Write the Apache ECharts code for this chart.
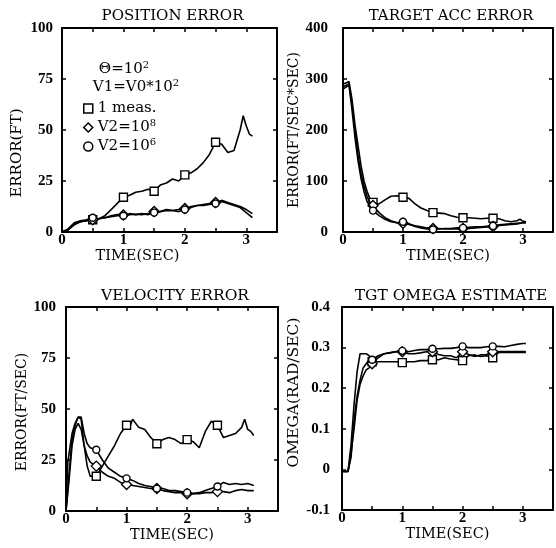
<!DOCTYPE html>
<html>
<head>
<meta charset="utf-8">
<script src="https://cdn.jsdelivr.net/npm/echarts@6/dist/echarts.min.js"></script>
<style>
html,body{margin:0;padding:0;background:#fff;}
#chart{width:556px;height:548px;}
</style>
</head>
<body>
<div id="chart"></div>
<script>
// ---------- DATA (time in sec, value) ----------
const seriesNames = ['1 meas.', 'V2=10^8', 'V2=10^6'];
const panelTitles = ['POSITION ERROR', 'TARGET ACC ERROR', 'VELOCITY ERROR', 'TGT OMEGA ESTIMATE'];
const yNames = ['ERROR(FT)', 'ERROR(FT/SEC*SEC)', 'ERROR(FT/SEC)', 'OMEGA(RAD/SEC)'];
const xName = 'TIME(SEC)';
const xTicks = [0, 1, 2, 3];
const markerTimes = [0.5, 1, 1.5, 2, 2.5];

// Position error (FT)
const posMeas = [[0,0],[0.1,1],[0.2,4],[0.3,5],[0.4,5.5],[0.5,6],[0.6,6.5],[0.7,8],[0.8,11],[0.9,14],[1,17],[1.1,18],[1.2,19.5],[1.3,20],[1.4,21],[1.5,20],[1.6,23],[1.7,24],[1.8,26],[1.9,25],[2,28],[2.1,29],[2.2,31],[2.3,34],[2.4,38],[2.5,44],[2.6,43],[2.7,39],[2.8,40],[2.9,50],[2.95,57],[3,52],[3.05,48],[3.1,47]];
const posV8 = [[0,0],[0.1,1],[0.2,3.5],[0.3,5],[0.4,5.5],[0.5,6],[0.6,6.5],[0.7,7],[0.8,7.5],[0.9,8],[1,8.3],[1.1,8.5],[1.2,8.7],[1.3,8.5],[1.4,9],[1.5,10],[1.6,10],[1.7,10.5],[1.8,10.5],[1.9,11],[2,11.5],[2.1,12],[2.2,13],[2.3,13.5],[2.4,14],[2.5,14.5],[2.6,15],[2.7,14],[2.8,13],[2.9,12],[3,9.5],[3.1,7]];
const posV6 = [[0,0],[0.1,1.5],[0.2,4.5],[0.3,5.5],[0.4,6],[0.5,7],[0.6,6.5],[0.7,7],[0.8,8],[0.9,8.5],[1,8],[1.1,9],[1.2,8.5],[1.3,9],[1.4,8.5],[1.5,9.5],[1.6,10],[1.7,11],[1.8,10.5],[1.9,10],[2,11],[2.1,12.5],[2.2,13],[2.3,13],[2.4,13.5],[2.5,14],[2.6,15.5],[2.7,14.5],[2.8,13.5],[2.9,12.5],[3,11],[3.1,9]];

// Target acceleration error (FT/SEC*SEC)
const accMeas = [[0,290],[0.05,292],[0.1,295],[0.15,260],[0.2,210],[0.25,170],[0.3,130],[0.35,100],[0.4,80],[0.45,65],[0.5,58],[0.6,55],[0.7,63],[0.8,70],[0.9,71],[1,68],[1.1,66],[1.2,55],[1.3,47],[1.4,42],[1.5,38],[1.6,37],[1.7,36],[1.8,32],[1.9,29],[2,28],[2.1,28],[2.2,27],[2.3,26],[2.4,27],[2.5,27],[2.6,26],[2.7,22],[2.8,20],[2.9,22],[2.95,25],[3,21],[3.05,20]];
const accV8 = [[0,285],[0.1,290],[0.15,250],[0.2,200],[0.25,150],[0.3,115],[0.35,90],[0.4,70],[0.45,58],[0.5,52],[0.6,38],[0.7,28],[0.8,22],[0.9,18],[1,17],[1.1,15],[1.2,12],[1.3,10],[1.4,8],[1.5,7],[1.6,7],[1.7,6],[1.8,6],[1.9,6],[2,7],[2.1,7],[2.2,8],[2.3,9],[2.4,10],[2.5,11],[2.6,13],[2.7,14],[2.8,15],[2.9,16],[3,18],[3.05,18]];
const accV6 = [[0,280],[0.1,288],[0.15,240],[0.2,185],[0.25,140],[0.3,105],[0.35,80],[0.4,60],[0.45,50],[0.5,42],[0.6,32],[0.7,25],[0.8,20],[0.9,18],[1,20],[1.1,16],[1.2,11],[1.3,8],[1.4,6],[1.5,5],[1.6,6],[1.7,7],[1.8,7],[1.9,8],[2,8],[2.1,9],[2.2,10],[2.3,10],[2.4,11],[2.5,12],[2.6,14],[2.7,15],[2.8,16],[2.9,17],[3,18],[3.05,18]];

// Velocity error (FT/SEC)
const velMeas = [[0,0],[0.03,24],[0.1,38],[0.15,43],[0.2,46],[0.25,45],[0.3,32],[0.35,22],[0.4,17],[0.5,17],[0.6,22],[0.7,27],[0.8,32],[0.9,38],[1,42],[1.05,41],[1.1,45],[1.2,41],[1.3,40],[1.4,36],[1.5,33],[1.6,35],[1.7,36],[1.8,35],[1.9,33],[2,35],[2.1,34],[2.2,31],[2.3,39],[2.4,44],[2.5,42],[2.6,36],[2.7,37],[2.8,38],[2.9,41],[2.95,45],[3,40],[3.05,39],[3.1,37]];
const velV8 = [[0,0],[0.05,15],[0.1,32],[0.15,40],[0.2,43],[0.25,40],[0.3,32],[0.35,27],[0.4,24],[0.5,22],[0.6,19],[0.7,17],[0.8,16],[0.9,14],[1,13],[1.1,12.5],[1.2,12],[1.3,11.5],[1.4,11],[1.5,11],[1.6,10],[1.7,9.5],[1.8,9],[1.9,9],[2,8.5],[2.1,8.5],[2.2,8.5],[2.3,9],[2.4,9],[2.5,9.5],[2.6,9.5],[2.7,9],[2.8,10],[2.9,10.5],[3,10],[3.1,10]];
const velV6 = [[0,0],[0.05,18],[0.1,35],[0.15,42],[0.2,46],[0.25,46],[0.3,38],[0.35,33],[0.4,31],[0.5,30],[0.6,25],[0.7,21],[0.8,19],[0.9,17],[1,16],[1.1,15],[1.2,13.5],[1.3,12.5],[1.4,12],[1.5,11],[1.6,11],[1.7,10],[1.8,10],[1.9,9.5],[2,9],[2.1,8.5],[2.2,9],[2.3,10],[2.4,11],[2.5,12],[2.6,14],[2.7,13],[2.8,13.5],[2.9,13],[3,13.5],[3.1,12.5]];

// Target omega estimate (RAD/SEC)
const omgMeas = [[0,-0.005],[0.1,-0.005],[0.15,0.06],[0.2,0.16],[0.25,0.24],[0.3,0.285],[0.35,0.285],[0.4,0.285],[0.45,0.28],[0.5,0.265],[0.6,0.265],[0.7,0.265],[0.8,0.265],[0.9,0.265],[1,0.263],[1.1,0.265],[1.2,0.265],[1.3,0.268],[1.4,0.268],[1.5,0.27],[1.6,0.27],[1.7,0.275],[1.8,0.272],[1.9,0.27],[2,0.268],[2.1,0.28],[2.2,0.282],[2.3,0.278],[2.4,0.28],[2.5,0.275],[2.6,0.288],[2.7,0.288],[2.8,0.288],[2.9,0.288],[3,0.288],[3.05,0.288]];
const omgV8 = [[0,-0.005],[0.1,-0.005],[0.15,0.04],[0.2,0.1],[0.25,0.17],[0.3,0.21],[0.35,0.23],[0.4,0.245],[0.45,0.25],[0.5,0.26],[0.6,0.275],[0.7,0.285],[0.8,0.288],[0.9,0.29],[1,0.29],[1.1,0.285],[1.2,0.285],[1.3,0.287],[1.4,0.29],[1.5,0.29],[1.6,0.283],[1.7,0.28],[1.8,0.28],[1.9,0.275],[2,0.29],[2.1,0.283],[2.2,0.278],[2.3,0.282],[2.4,0.283],[2.5,0.29],[2.6,0.29],[2.7,0.29],[2.8,0.29],[2.9,0.29],[3,0.29],[3.05,0.29]];
const omgV6 = [[0,-0.005],[0.1,-0.005],[0.15,0.03],[0.2,0.12],[0.25,0.18],[0.3,0.22],[0.35,0.25],[0.4,0.26],[0.45,0.27],[0.5,0.27],[0.6,0.28],[0.7,0.285],[0.8,0.287],[0.9,0.29],[1,0.292],[1.1,0.29],[1.2,0.293],[1.3,0.295],[1.4,0.295],[1.5,0.297],[1.6,0.297],[1.7,0.298],[1.8,0.298],[1.9,0.3],[2,0.303],[2.1,0.3],[2.2,0.3],[2.3,0.3],[2.4,0.302],[2.5,0.303],[2.6,0.303],[2.7,0.302],[2.8,0.305],[2.9,0.308],[3,0.31],[3.05,0.31]];

const yRanges = [[0,100,25],[0,400,100],[0,100,25],[-0.1,0.4,0.1]];
const panelData = [[posMeas,posV8,posV6],[accMeas,accV8,accV6],[velMeas,velV8,velV6],[omgMeas,omgV8,omgV6]];

// ---------- LAYOUT / STYLE ----------
const SERIF = 'DejaVu Serif';
const NUMF = 'Liberation Serif';
const grids = [
  {left:62, top:28, width:215, height:204},
  {left:343, top:28, width:210, height:204},
  {left:66, top:307, width:212, height:204},
  {left:342, top:307, width:212, height:203}
];
const yLabelMargin = [9, 15, 10, 12];
const yNameGap = [37, 42, 33, 36];
const yNamePad = [[0,46,0,0],[0,0,0,0],[0,6,0,0],[0,0,0,32]];
const yNameSize = [15, 14, 14, 15.5];
const xNameGap = [16, 13, 11, 9];
const xNamePad = [[0,64,0,0],[0,0,0,0],[0,0,0,0],[0,0,0,0]];
const symbols = ['rect','diamond','circle'];
const symSizes = [8, 10, 7];

const axisLineStyle = {color:'#000', width:2};
const tickStyle = {color:'#000', width:1.5};

const xAxes = [], yAxes = [], series = [], titles = [];
grids.forEach((g, i) => {
  const [ymin, ymax, yint] = yRanges[i];
  xAxes.push({
    type:'value', gridIndex:i, min:0, max:3.5, interval:0.5, position:'bottom',
    axisLine:{show:true, onZero:false, lineStyle:axisLineStyle},
    axisTick:{show:true, inside:true, length:4, lineStyle:tickStyle},
    splitLine:{show:false},
    axisLabel:{show:true, margin:1, color:'#000', fontFamily:NUMF, fontWeight:'bold', fontSize:15,
      formatter:(v)=> xTicks.indexOf(Math.round(v*1000)/1000) >= 0 ? String(Math.round(v)) : ''},
    name:xName, nameLocation:'middle', nameGap:xNameGap[i],
    nameTextStyle:{color:'#000', fontFamily:SERIF, fontSize:14.5, padding:xNamePad[i], verticalAlign:'top'}
  });
  xAxes.push({
    type:'value', gridIndex:i, min:0, max:3.5, interval:0.5, position:'top',
    axisLine:{show:true, onZero:false, lineStyle:axisLineStyle},
    axisTick:{show:true, inside:true, length:4, lineStyle:tickStyle},
    splitLine:{show:false}, axisLabel:{show:false}
  });
  yAxes.push({
    type:'value', gridIndex:i, min:ymin, max:ymax, interval:yint, position:'left',
    axisLine:{show:true, onZero:false, lineStyle:axisLineStyle},
    axisTick:{show:true, inside:true, length:4, lineStyle:tickStyle},
    splitLine:{show:false},
    axisLabel:{show:true, margin:yLabelMargin[i], color:'#000', fontFamily:NUMF, fontWeight:'bold', fontSize:15,
      formatter:(v)=> String(Math.round(v*1000)/1000)},
    name:yNames[i], nameLocation:'middle', nameGap:yNameGap[i], nameRotate:90,
    nameTextStyle:{color:'#000', fontFamily:SERIF, fontSize:yNameSize[i], padding:yNamePad[i]}
  });
  yAxes.push({
    type:'value', gridIndex:i, min:ymin, max:ymax, interval:yint, position:'right',
    axisLine:{show:true, onZero:false, lineStyle:axisLineStyle},
    axisTick:{show:true, inside:true, length:4, lineStyle:tickStyle},
    splitLine:{show:false}, axisLabel:{show:false}
  });
  titles.push({
    text:panelTitles[i], left:g.left + g.width/2 - 2, top:g.top - 24, textAlign:'center',
    textStyle:{color:'#000', fontFamily:SERIF, fontWeight:'normal', fontSize: i < 2 ? 15 : 15.5}
  });
  panelData[i].forEach((d, s) => {
    series.push({
      type:'line', name:seriesNames[s], xAxisIndex:2*i, yAxisIndex:2*i, data:d,
      showSymbol:true, showAllSymbol:true, symbol:symbols[s],
      symbolSize:(val)=> markerTimes.some(m => Math.abs(val[0]-m) < 1e-6) ? symSizes[s] : 0,
      lineStyle:{color:'#000', width:1.6},
      itemStyle:{color:'#fff', borderColor:'#000', borderWidth:1.4},
      emphasis:{disabled:true}, z: 3 + s
    });
  });
});

const rich = {
  s:{fontFamily:SERIF, fontWeight:'normal', fontSize:10, color:'#000', padding:[0,0,9,0]},
  n:{fontFamily:SERIF, fontWeight:'normal', fontSize:15, color:'#000'}
};
titles.push({
  text:'{n|\u0398=10}{s|2}', left:119, top:55, textAlign:'center',
  textStyle:{fontWeight:'normal', rich:rich}
});
titles.push({
  text:'{n|V1=V0*10}{s|2}', left:131, top:73, textAlign:'center',
  textStyle:{fontWeight:'normal', rich:rich}
});

const option = {
  animation:false,
  backgroundColor:'#fff',
  title:titles,
  grid:grids,
  xAxis:xAxes,
  yAxis:yAxes,
  legend:{
    data:[{name:seriesNames[0], icon:'rect'},{name:seriesNames[1], icon:'diamond'},{name:seriesNames[2], icon:'circle'}],
    orient:'vertical', left:78, top:96, itemGap:2, itemWidth:9, itemHeight:9,
    selectedMode:false,
    itemStyle:{color:'#fff', borderColor:'#000', borderWidth:1.5},
    formatter:(name)=> name.indexOf('^') >= 0 ? '{n|' + name.split('^')[0] + '}{s|' + name.split('^')[1] + '}' : '{n|' + name + '}',
    textStyle:{rich:rich}
  },
  series:series
};

const chart = echarts.init(document.getElementById('chart'), null, {renderer:'canvas'});
chart.setOption(option);
</script>
</body>
</html>
